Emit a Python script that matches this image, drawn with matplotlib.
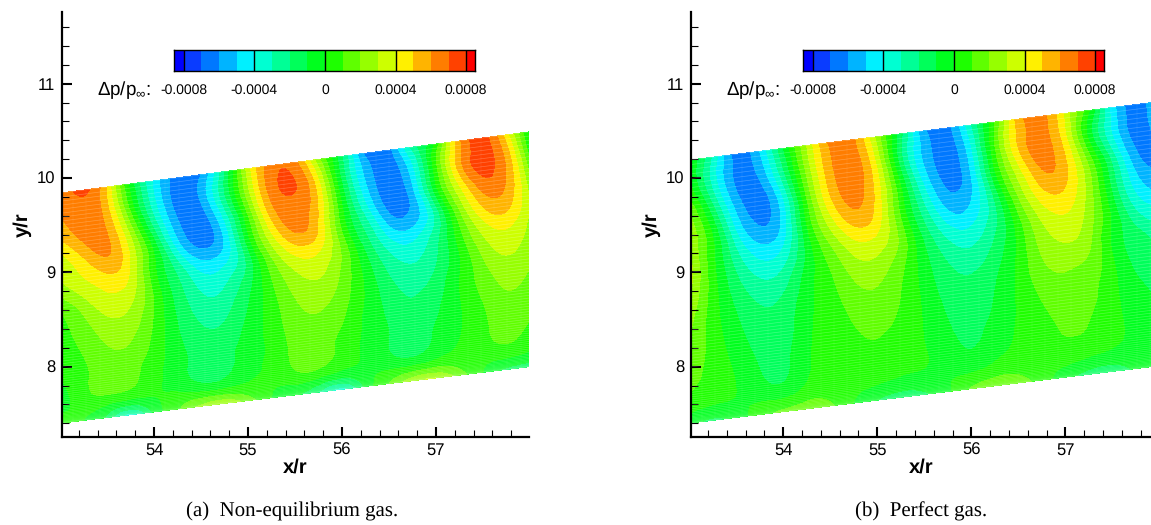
import numpy as np
import matplotlib
matplotlib.use('Agg')
import matplotlib.pyplot as plt
import matplotlib.tri as tri
from matplotlib.colors import ListedColormap, BoundaryNorm

plt.rcParams['font.family'] = ['Liberation Sans', 'DejaVu Sans']
plt.rcParams['mathtext.fontset'] = 'custom'
plt.rcParams['mathtext.rm'] = 'Liberation Sans'
plt.rcParams['text.hinting'] = 'none'

# stations along the wedge, and fraction of the way from lower to upper edge
x_stations = [53.0, 53.25, 53.5, 53.75, 54.0, 54.25, 54.5, 54.75, 55.0, 55.25, 55.5,
              55.75, 56.0, 56.25, 56.5, 56.75, 57.0, 57.25, 57.5, 57.75, 58.0]
eta_rows = [1.0, 0.9, 0.8, 0.7, 0.6, 0.5, 0.4, 0.3, 0.2, 0.1, 0.0]

# pressure in units of 1e-4, top row is the upper edge
dp_noneq = [
    [6.3, 7.2, 4.8, -0.5, -4.3, -6.5, -6.0, -2.0, 3.5, 6.6, 6.3, 2.2, -1.8, -6.3, -6.3, -2.6, 0.3, 5.8, 7.3, 4.4, -0.5],
    [6.0, 6.7, 5.3, 0.6, -3.7, -6.5, -5.8, -2.1, 2.7, 6.5, 7.05, 4.2, -1.2, -5.2, -6.6, -4.4, 0.7, 5.6, 7.4, 5.7, 0.7],
    [5.0, 6.3, 6.0, 2.5, -2.2, -5.8, -6.6, -3.8, 1.0, 5.5, 6.6, 4.9, -0.1, -4.2, -6.6, -5.4, -0.5, 3.8, 6.5, 5.9, 2.2],
    [3.5, 4.9, 6.0, 3.8, -0.2, -4.4, -6.3, -4.9, -0.3, 3.8, 6.0, 4.9, 0.7, -2.6, -5.5, -5.6, -2.7, 1.9, 4.9, 5.3, 2.9],
    [2.8, 3.8, 4.6, 3.8, 0.3, -2.3, -4.4, -4.1, -1.7, 1.9, 4.0, 4.0, 1.8, -1.3, -3.6, -4.1, -2.4, 0.6, 3.2, 4.0, 2.7],
    [1.2, 2.5, 3.6, 3.2, 0.9, -1.5, -3.1, -3.0, -1.4, 0.9, 2.6, 3.1, 1.8, -0.4, -2.3, -3.0, -2.1, -0.1, 2.1, 3.1, 2.4],
    [0.6, 1.6, 2.6, 2.5, 0.9, -1.1, -2.3, -2.3, -1.0, 0.5, 1.9, 2.3, 1.5, -0.1, -1.6, -2.2, -1.6, 0.0, 1.45, 2.3, 1.9],
    [0.3, 1.1, 1.9, 1.9, 0.7, -0.8, -1.7, -1.7, -0.7, 0.4, 1.5, 1.8, 1.1, -0.2, -1.2, -1.8, -1.2, -0.1, 1.0, 1.8, 1.5],
    [0.0, 0.8, 1.5, 1.4, 0.4, -0.6, -1.4, -1.4, -0.5, 0.2, 1.3, 1.5, 0.7, -0.2, -1.0, -1.4, -0.9, -0.1, 0.8, 1.3, 1.0],
    [-0.5, 0.6, 1.0, 0.8, 0.2, -0.3, -1.0, -0.9, -0.2, 0.2, 0.9, 1.0, 0.3, -0.2, -0.7, -1.0, -0.4, 0.2, 0.6, 0.9, 0.4],
    [0.8, 0.0, -1.2, -3.4, -0.8, 0.8, 2.2, 2.8, 1.5, 0.0, -0.8, -2.0, -3.4, -0.8, 1.0, 2.6, 3.0, 1.5, 0.0, -1.2, -1.5],
]
dp_perfect = [
    [0.0, -3.2, -6.4, -5.0, -1.0, 3.0, 6.2, 6.1, 2.5, -1.7, -5.8, -6.3, -3.0, 1.0, 5.5, 6.3, 3.7, 0.1, -4.5, -6.4, -5.0],
    [0.3, -3.3, -6.2, -5.9, -2.4, 2.2, 5.7, 6.5, 3.7, -1.6, -5.3, -6.5, -4.2, 0.9, 5.1, 6.4, 4.3, -0.3, -4.1, -6.4, -5.3],
    [2.0, -1.6, -5.3, -6.5, -4.2, 1.0, 5.0, 6.4, 4.5, 0.0, -4.2, -6.3, -5.0, -0.3, 3.5, 6.0, 5.2, 1.8, -2.3, -5.7, -6.0],
    [2.8, 0.0, -3.9, -5.8, -4.6, 0.0, 3.5, 5.5, 4.5, 0.8, -2.7, -5.2, -4.9, -2.0, 1.9, 4.5, 4.8, 2.5, -1.3, -4.5, -5.5],
    [3.4, 0.3, -2.5, -4.2, -3.7, -0.8, 1.8, 3.6, 3.6, 1.7, -1.3, -3.4, -3.8, -2.2, 0.5, 3.0, 3.8, 2.5, -0.3, -3.0, -4.0],
    [3.2, 0.5, -1.6, -2.8, -2.5, -0.6, 0.9, 2.3, 2.5, 1.3, -0.6, -2.1, -2.6, -1.6, 0.2, 2.2, 2.9, 2.2, -0.2, -1.6, -2.5],
    [2.4, 0.5, -1.0, -1.9, -1.7, -0.4, 0.6, 1.5, 1.8, 1.0, -0.3, -1.5, -1.8, -1.1, 0.2, 1.6, 2.0, 1.6, 0.2, -1.2, -1.7],
    [1.9, 0.6, -0.6, -1.5, -1.5, -0.3, 0.5, 1.0, 1.3, 0.8, -0.1, -1.1, -1.5, -0.9, 0.1, 1.0, 1.5, 1.3, 0.3, -0.7, -1.2],
    [1.3, 0.7, -0.2, -1.1, -1.3, -0.2, 0.4, 0.7, 0.9, 0.5, 0.0, -0.7, -1.2, -0.6, 0.1, 0.7, 1.1, 1.0, 0.3, -0.3, -0.8],
    [0.9, 0.5, 0.0, -0.6, -0.9, 0.0, 0.4, 0.5, 0.5, 0.2, 0.0, -0.3, -0.6, -0.1, 0.3, 0.5, 0.7, 0.5, 0.1, -0.2, -0.3],
    [-0.5, -1.2, -0.6, 0.5, 1.2, 1.6, 1.2, 0.0, -1.0, -1.5, -1.2, -0.2, 1.1, 1.7, 1.5, 0.5, -0.6, -1.4, -1.6, -0.8, 0.3],
]

# wedge edges at x=53 and x=58: lower then upper
edges_noneq = [[7.40, 8.00], [9.84, 10.49]]
edges_perfect = [[7.40, 8.01], [10.19, 10.81]]

levels = [-8, -7, -6, -5, -4, -3, -2, -1, 0, 1, 2, 3, 4, 5, 6, 7, 8]
band_colors = ['#0000ff', '#0a3cff', '#0078ff', '#00b4ff', '#00f0ff',
               '#00ffd2', '#00ff96', '#00ff5a', '#00ff1e',
               '#1eff00', '#5fff00', '#96ff00', '#cdff00',
               '#fff000', '#ffb400', '#ff7d00', '#ff4100', '#ff0000']
bar_limits = [-8.55, 8.5]
bar_ticks = [-8, -4, 0, 4, 8]
bar_labels = ['-0.0008', '-0.0004', '0', '0.0004', '0.0008']

x_ticks = [54, 55, 56, 57]
y_ticks = [8, 9, 10, 11]
captions = ['(a)  Non-equilibrium gas.', '(b)  Perfect gas.']

W, H = 1151, 525
cmap = ListedColormap(band_colors[1:-1])
cmap.set_under(band_colors[0])
cmap.set_over(band_colors[-1])
norm = BoundaryNorm(levels, cmap.N)


def px_axes(fig, left, right, top, bottom):
    return fig.add_axes([left / W, 1 - bottom / H, (right - left) / W, (bottom - top) / H])


def draw_mesh(ax, xs, low, up):
    # the grid lines show through the contours, denser towards the lower edge
    for e in np.linspace(0, 1, 85) ** 1.5:
        ax.plot(xs, low + (up - low) * e, color='white', lw=0.5, alpha=0.25)
    for x0 in np.arange(xs[0], xs[-1], 0.14):
        lo = np.interp(x0, xs, low)
        hi = np.interp(x0, xs, up)
        ax.plot([x0, x0], [lo, hi], color='white', lw=0.3, alpha=0.15)


def draw_panel(fig, field, edges, left, right, xlim, caption, cap_x):
    ax = px_axes(fig, left, right, 12, 437)
    eta = np.array(eta_rows)
    xs = np.array(x_stations)
    low = np.interp(xs, [x_stations[0], x_stations[-1]], edges[0])
    up = np.interp(xs, [x_stations[0], x_stations[-1]], edges[1])
    X, E = np.meshgrid(xs, eta)
    Y = low + (up - low) * E
    t = tri.Triangulation(X.ravel(), Y.ravel())
    refiner = tri.UniformTriRefiner(t)
    t2, z2 = refiner.refine_field(np.array(field).ravel(), subdiv=3)
    ax.tricontourf(t2, z2, levels=levels, cmap=cmap, norm=norm, extend='both')
    draw_mesh(ax, xs, low, up)

    ax.set_xlim(*xlim)
    ax.set_ylim(7.254, 11.76)
    ax.spines['top'].set_visible(False)
    ax.spines['right'].set_visible(False)
    ax.spines['left'].set_linewidth(1.6)
    ax.spines['bottom'].set_linewidth(1.6)
    ax.set_xticks(x_ticks)
    ax.set_yticks(y_ticks)
    ax.set_xticks(np.arange(53.2, xlim[1], 0.2), minor=True)
    ax.set_yticks(np.arange(7.4, 11.7, 0.2), minor=True)
    ax.tick_params(which='major', direction='in', length=7.2, width=1.5, labelsize=12)
    ax.tick_params(which='minor', direction='in', length=5, width=0.8)
    ax.tick_params(axis='y', pad=5)
    ax.tick_params(axis='x', pad=4)
    ax.set_xlabel('x/r', fontsize=14.5, fontweight='bold', labelpad=0)
    ax.set_ylabel('y/r', fontsize=14.5, fontweight='bold', labelpad=3.5)
    fig.text(cap_x / W, 1 - 511 / H, caption, family='Liberation Serif', fontsize=15,
             ha='center', va='center')

    # legend bar on top of the panel
    bar = px_axes(fig, left + 112, left + 413, 50, 71)
    bar_edges = [bar_limits[0]] + levels + [bar_limits[1]]
    bar.pcolormesh(bar_edges, [0, 1], np.arange(len(band_colors))[None, :],
                   cmap=ListedColormap(band_colors), shading='flat')
    bar.vlines(bar_ticks, 0, 1, color='black', lw=1)
    bar.set_xlim(*bar_limits)
    bar.set_ylim(0, 1)
    bar.set_yticks([])
    bar.set_xticks(bar_ticks)
    bar.set_xticklabels(bar_labels, fontsize=10)
    bar.tick_params(axis='x', length=0, pad=9.5)
    for s in bar.spines.values():
        s.set_linewidth(1)
    fig.text((left + 35) / W, 1 - 90 / H, r'$\mathrm{\Delta p/p_{\infty}}$:', fontsize=13.5,
             ha='left', va='center')


fig = plt.figure(figsize=(W / 100, H / 100), dpi=100)
draw_panel(fig, dp_noneq, edges_noneq, 62, 529, (53.02, 57.99), captions[0], 292)
draw_panel(fig, dp_perfect, edges_perfect, 691, 1151, (53.02, 57.91), captions[1], 921)
fig.savefig('out.png', dpi=100)
